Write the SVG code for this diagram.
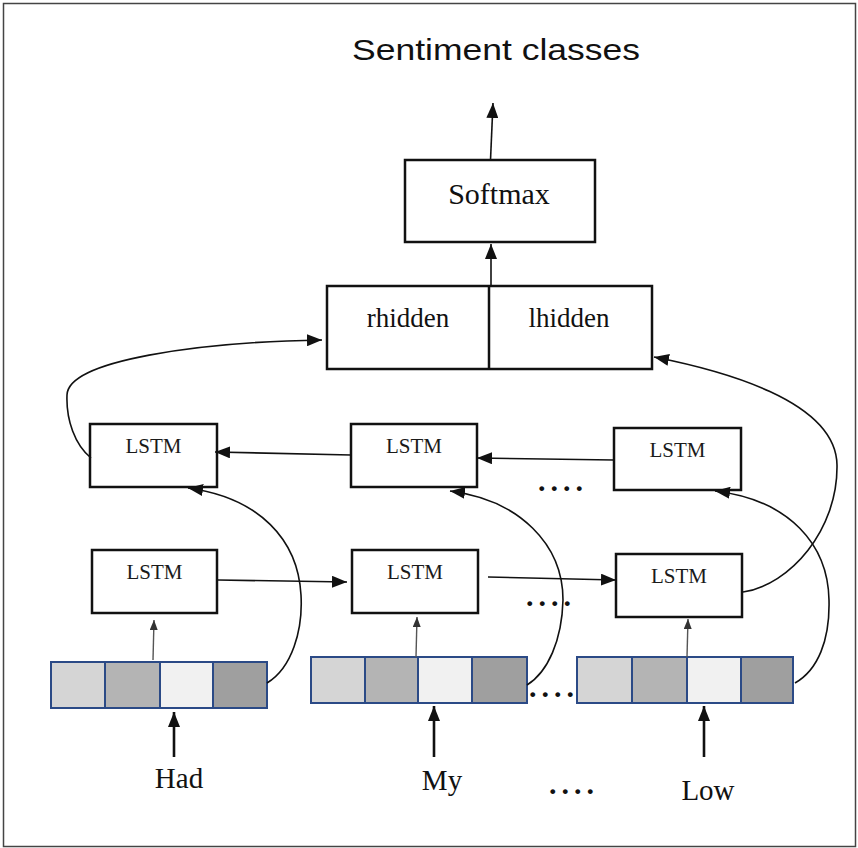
<svg xmlns="http://www.w3.org/2000/svg" width="858" height="848" viewBox="0 0 858 848">
<defs>
<style>
.box{fill:#fff;stroke:#111;stroke-width:2.5}
.lstm{font-family:"Liberation Serif",serif;font-size:21px;fill:#1a1a1a;text-anchor:middle}
.big{font-family:"Liberation Serif",serif;fill:#111;text-anchor:middle}
.ln{fill:none;stroke:#111;stroke-width:1.6}
.thin{fill:none;stroke:#555;stroke-width:1.4}
.thick{fill:none;stroke:#111;stroke-width:2.6}
.vb{stroke:#2b4a86;stroke-width:2}
.dots{font-family:"Liberation Serif",serif;font-size:30px;font-weight:bold;fill:#111;letter-spacing:5px}
</style>
<marker id="ah" markerUnits="userSpaceOnUse" markerWidth="16" markerHeight="12" refX="15" refY="6" orient="auto"><path d="M0,0 L15,6 L0,12 z" fill="#111"/></marker>
<marker id="ahs" markerUnits="userSpaceOnUse" markerWidth="10" markerHeight="8" refX="10" refY="4" orient="auto"><path d="M0,0 L10,4 L0,8 z" fill="#333"/></marker>
</defs>
<rect x="3.5" y="3.5" width="852" height="843" fill="#fff" stroke="#444" stroke-width="1.5"/>

<g id="title"><text x="496" y="60" font-family="Liberation Sans, Arial, sans-serif" font-size="29" fill="#111" text-anchor="middle" textLength="288" lengthAdjust="spacingAndGlyphs">Sentiment classes</text></g>

<g id="softmax"><rect class="box" x="405" y="160" width="190" height="82"/><text class="big" x="499" y="204" font-size="30">Softmax</text></g>

<g id="hidden"><rect class="box" x="327" y="286" width="325" height="83" stroke-width="3"/><line x1="489" y1="286" x2="489" y2="369" stroke="#111" stroke-width="2.5"/>
<text class="big" x="408" y="327" font-size="27">rhidden</text><text class="big" x="569" y="327" font-size="27">lhidden</text></g>

<g id="lstm-b1"><rect class="box" x="90" y="424" width="127" height="63"/><text class="lstm" x="153.5" y="453">LSTM</text></g>
<g id="lstm-b2"><rect class="box" x="351" y="424" width="126" height="63"/><text class="lstm" x="414" y="453">LSTM</text></g>
<g id="lstm-b3"><rect class="box" x="614" y="428" width="127" height="62"/><text class="lstm" x="677.5" y="457">LSTM</text></g>
<g id="lstm-f1"><rect class="box" x="92" y="550" width="125" height="63"/><text class="lstm" x="154.5" y="579">LSTM</text></g>
<g id="lstm-f2"><rect class="box" x="352" y="550" width="126" height="63"/><text class="lstm" x="415" y="579">LSTM</text></g>
<g id="lstm-f3"><rect class="box" x="616" y="554" width="126" height="63"/><text class="lstm" x="679" y="583">LSTM</text></g>

<g id="vec-had">
<rect x="51" y="662" width="54" height="46" fill="#d5d5d5"/><rect x="105" y="662" width="55" height="46" fill="#b4b4b4"/><rect x="160" y="662" width="53" height="46" fill="#f1f1f1"/><rect x="213" y="662" width="54" height="46" fill="#9f9f9f"/>
<rect class="vb" x="51" y="662" width="216" height="46" fill="none"/><path class="vb" d="M105,662V708M160,662V708M213,662V708"/>
</g>
<g id="vec-my">
<rect x="311" y="657" width="54" height="46" fill="#d5d5d5"/><rect x="365" y="657" width="53" height="46" fill="#b4b4b4"/><rect x="418" y="657" width="54" height="46" fill="#f1f1f1"/><rect x="472" y="657" width="55" height="46" fill="#9f9f9f"/>
<rect class="vb" x="311" y="657" width="216" height="46" fill="none"/><path class="vb" d="M365,657V703M418,657V703M472,657V703"/>
</g>
<g id="vec-low">
<rect x="577" y="657" width="55" height="46" fill="#d5d5d5"/><rect x="632" y="657" width="55" height="46" fill="#b4b4b4"/><rect x="687" y="657" width="54" height="46" fill="#f1f1f1"/><rect x="741" y="657" width="52" height="46" fill="#9f9f9f"/>
<rect class="vb" x="577" y="657" width="216" height="46" fill="none"/><path class="vb" d="M632,657V703M687,657V703M741,657V703"/>
</g>

<g id="words">
<text class="big" x="179" y="788" font-size="29">Had</text>
<text class="big" x="442" y="790" font-size="29">My</text>
<text class="big" x="708" y="800" font-size="29">Low</text>
</g>

<g id="dots">
<text class="dots" x="538" y="491">....</text>
<text class="dots" x="526" y="606">....</text>
<text class="dots" x="529" y="697">....</text>
<text class="dots" x="549" y="794">....</text>
</g>

<g id="connectors">
<line class="ln" x1="490.5" y1="160" x2="493" y2="103" marker-end="url(#ah)"/>
<line class="ln" x1="491" y1="286" x2="491" y2="244" marker-end="url(#ah)"/>
<path class="ln" d="M91,458 C75,445 66,420 67,395 C68,360 200,342 322,340" marker-end="url(#ah)"/>
<path class="ln" d="M743,592 C790,585 838,530 837,465 C836,400 720,370 654,357" marker-end="url(#ah)"/>
<line class="ln" x1="351" y1="455" x2="215" y2="452" marker-end="url(#ah)"/>
<line class="ln" x1="614" y1="460" x2="477" y2="458" marker-end="url(#ah)"/>
<line class="ln" x1="218" y1="580" x2="347" y2="582" marker-end="url(#ah)"/>
<line class="ln" x1="488" y1="577" x2="616" y2="580" marker-end="url(#ah)"/>
<path class="ln" d="M267,683 C292,668 303,630 301,595 C298,540 260,498 188,488" marker-end="url(#ah)"/>
<path class="ln" d="M527,685 C548,672 562,640 563,600 C563,545 520,500 450,491" marker-end="url(#ah)"/>
<path class="ln" d="M795,683 C818,670 830,640 829,600 C828,545 790,500 715,491" marker-end="url(#ah)"/>
<line class="thin" x1="153" y1="660" x2="154" y2="620" marker-end="url(#ahs)"/>
<line class="thin" x1="416" y1="657" x2="417" y2="617" marker-end="url(#ahs)"/>
<line class="thin" x1="687" y1="657" x2="688" y2="619" marker-end="url(#ahs)"/>
<line class="thick" x1="174" y1="757" x2="174" y2="712" marker-end="url(#ah)"/>
<line class="thick" x1="434" y1="757" x2="434" y2="706" marker-end="url(#ah)"/>
<line class="thick" x1="704" y1="757" x2="704" y2="706" marker-end="url(#ah)"/>
</g>
</svg>
